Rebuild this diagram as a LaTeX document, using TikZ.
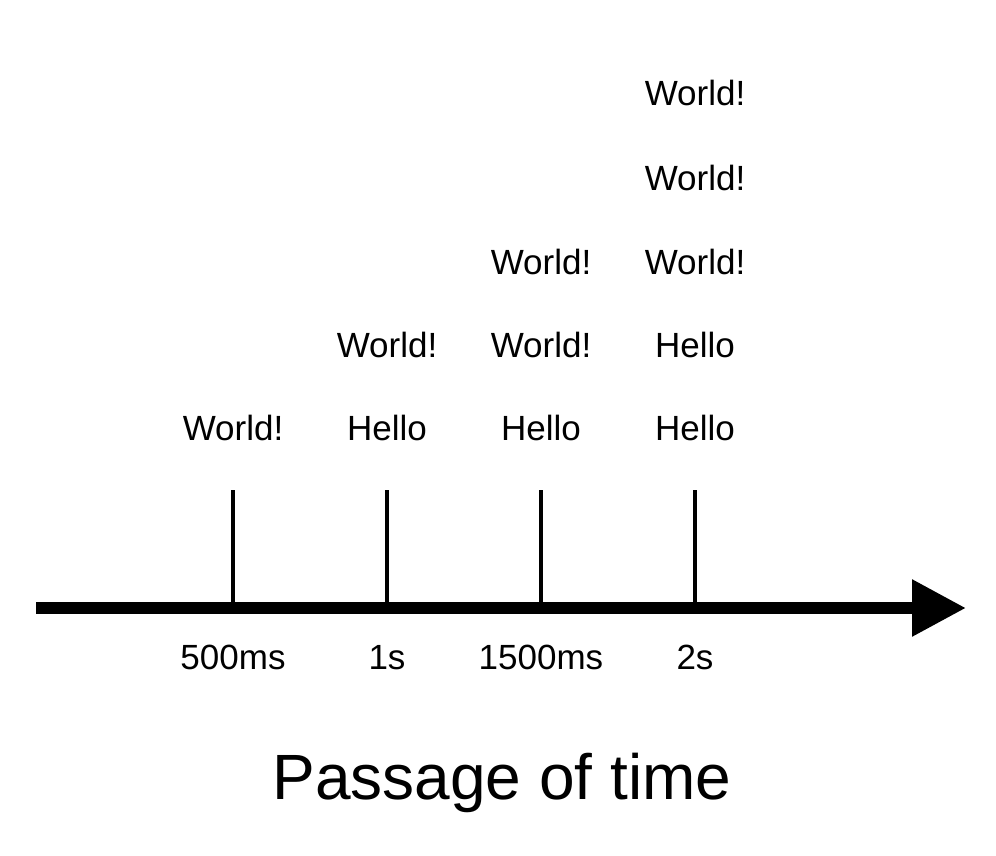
\documentclass[tikz,border=0pt]{standalone}
\usepackage{fontspec}
\setmainfont{Liberation Sans}
\usetikzlibrary{arrows.meta}
\begin{document}
\begin{tikzpicture}[x=1pt,y=-1pt,
    lbl/.style={font=\fontsize{35}{42}\selectfont, anchor=base},
    tickline/.style={line width=4pt}]
      \useasboundingbox (0,0) rectangle (996,856);
      % time axis
      \coordinate (start) at (36,608);
      \coordinate (end) at (966,608);
      \draw[line width=12pt,-{Triangle[length=54pt,width=54pt]}] (start) -- (end);
      % ticks and times
      \foreach \x/\t/\n in {233/500ms/a, 387/1s/b, 541/1500ms/c, 695/2s/d} {
        \coordinate (foot\n) at (\x,608);
        \coordinate (head\n) at (\x,490);
        \draw[tickline] (foot\n) -- (head\n);
        \node[lbl] (time\n) at (\x,669) {\t};
      }
      % printed output
      \node[lbl] (a1) at (233,440) {World!};
      \node[lbl] (b1) at (387,440) {Hello};
      \node[lbl] (b2) at (387,357) {World!};
      \node[lbl] (c1) at (541,440) {Hello};
      \node[lbl] (c2) at (541,357) {World!};
      \node[lbl] (c3) at (541,274) {World!};
      \node[lbl] (d1) at (695,440) {Hello};
      \node[lbl] (d2) at (695,357) {Hello};
      \node[lbl] (d3) at (695,274) {World!};
      \node[lbl] (d4) at (695,190) {World!};
      \node[lbl] (d5) at (695,106) {World!};
      \node[anchor=base,font=\fontsize{64}{76}\selectfont] (title) at (502,799) {Passage of time};
\end{tikzpicture}
\end{document}
